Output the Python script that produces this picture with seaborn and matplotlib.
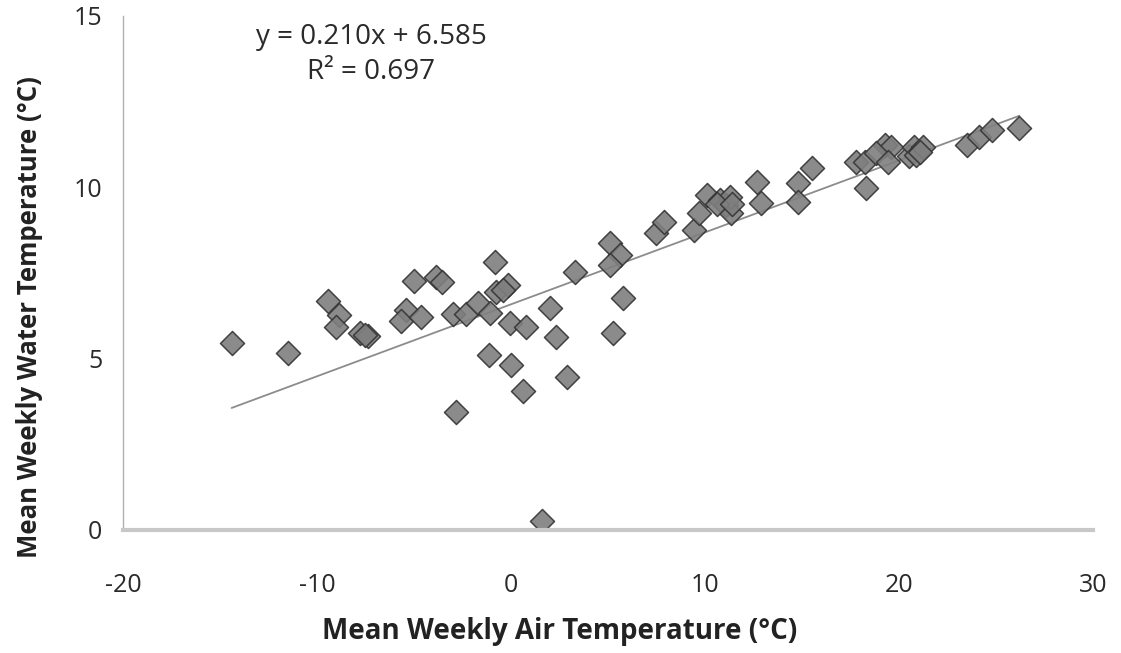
import seaborn as sns
import matplotlib.pyplot as plt
import numpy as np
import pandas as pd

# mean weekly air temperature (x) and water temperature (y)
air_temp = [-14.4, -11.5, -9.45, -8.85, -9.0, -7.8, -7.35, -7.55,
            -5.0, -3.85, -3.55, -5.4, -5.65, -4.65, -0.8, -3.0,
            -2.3, -1.7, -1.1, -0.75, -0.15, -0.4, -0.05, 0.75,
            -1.15, 0.0, 0.6, -2.85, 1.6, 3.3, 5.1, 5.6,
            5.1, 5.8, 5.25, 2.0, 2.3, 2.9, 7.5, 7.9,
            9.45, 9.7, 10.1, 10.75, 11.1, 11.35, 11.3, 10.6,
            11.4, 12.7, 12.9, 14.8, 15.5, 14.8, 17.8, 18.25,
            18.3, 19.3, 19.6, 18.8, 19.45, 20.5, 20.8, 20.9,
            21.25, 21.1, 23.5, 24.1, 24.8, 26.2]
water_temp = [5.46, 5.17, 6.68, 6.27, 5.91, 5.76, 5.66, 5.7,
              7.27, 7.39, 7.25, 6.42, 6.11, 6.22, 7.83, 6.3,
              6.3, 6.61, 6.34, 6.95, 7.15, 7.0, 6.03, 5.93,
              5.11, 4.81, 4.06, 3.43, 0.26, 7.54, 8.37, 8.02,
              7.73, 6.76, 5.76, 6.47, 5.64, 4.47, 8.66, 9.0,
              8.75, 9.26, 9.78, 9.63, 9.48, 9.24, 9.73, 9.5,
              9.5, 10.15, 9.53, 10.12, 10.55, 9.58, 10.75, 10.75,
              9.97, 11.23, 11.19, 10.99, 10.75, 10.9, 11.19, 10.94,
              11.19, 11.04, 11.23, 11.48, 11.67, 11.72]

# trendline from the printed equation
slope = 0.210
intercept = 6.585
r_squared = 0.697

df = pd.DataFrame({'air': air_temp, 'water': water_temp})

sns.set_style('white')
plt.rcParams['font.family'] = ['Open Sans', 'DejaVu Sans']
plt.rcParams['axes.unicode_minus'] = False

fig = plt.figure(figsize=(11.21, 6.53), dpi=100)
ax = fig.add_axes([0.1097, 0.1884, 0.8653, 0.7871])

x_line = np.array([df['air'].min(), df['air'].max()])
ax.plot(x_line, slope * x_line + intercept, color='#8c8c8c', lw=1.3, zorder=1)

sns.scatterplot(data=df, x='air', y='water', marker='D', s=150,
                color='#7f7f7f', edgecolor='#333333', linewidth=1.1,
                alpha=0.9, ax=ax, zorder=2)

ax.set_xlim(-20, 30)
ax.set_ylim(0, 15)
ax.set_xticks([-20, -10, 0, 10, 20, 30])
ax.set_yticks([0, 5, 10, 15])

for side in ['top', 'right']:
    ax.spines[side].set_visible(False)
ax.spines['left'].set_color('#b0b0b0')
ax.spines['left'].set_linewidth(1.0)
ax.spines['bottom'].set_color('#c8c8c8')
ax.spines['bottom'].set_linewidth(3.0)
ax.tick_params(axis='both', which='major', direction='out', length=7,
               color='#b0b0b0', labelsize=18, labelcolor='#2a2a2a')
ax.tick_params(axis='x', pad=24)
ax.tick_params(axis='y', pad=8)

ax.set_xlabel('Mean Weekly Air Temperature (\u00b0C)', fontsize=20,
              fontweight='bold', color='#222222')
ax.set_ylabel('Mean Weekly Water Temperature (\u00b0C)', fontsize=18.5,
              fontweight='bold', color='#222222')
ax.xaxis.set_label_coords(0.4505, -0.198)
ax.xaxis.label.set_verticalalignment('center')
ax.yaxis.set_label_coords(-0.0959, 0.415)
ax.yaxis.label.set_verticalalignment('center')

eq_text = 'y = %.3fx + %.3f\nR\u00b2 = %.3f' % (slope, intercept, r_squared)
ax.text(-7.2, 14.8, eq_text, ha='center', va='top', fontsize=20,
        color='#2a2a2a', linespacing=1.35)

fig.savefig('out.png', dpi=100)
